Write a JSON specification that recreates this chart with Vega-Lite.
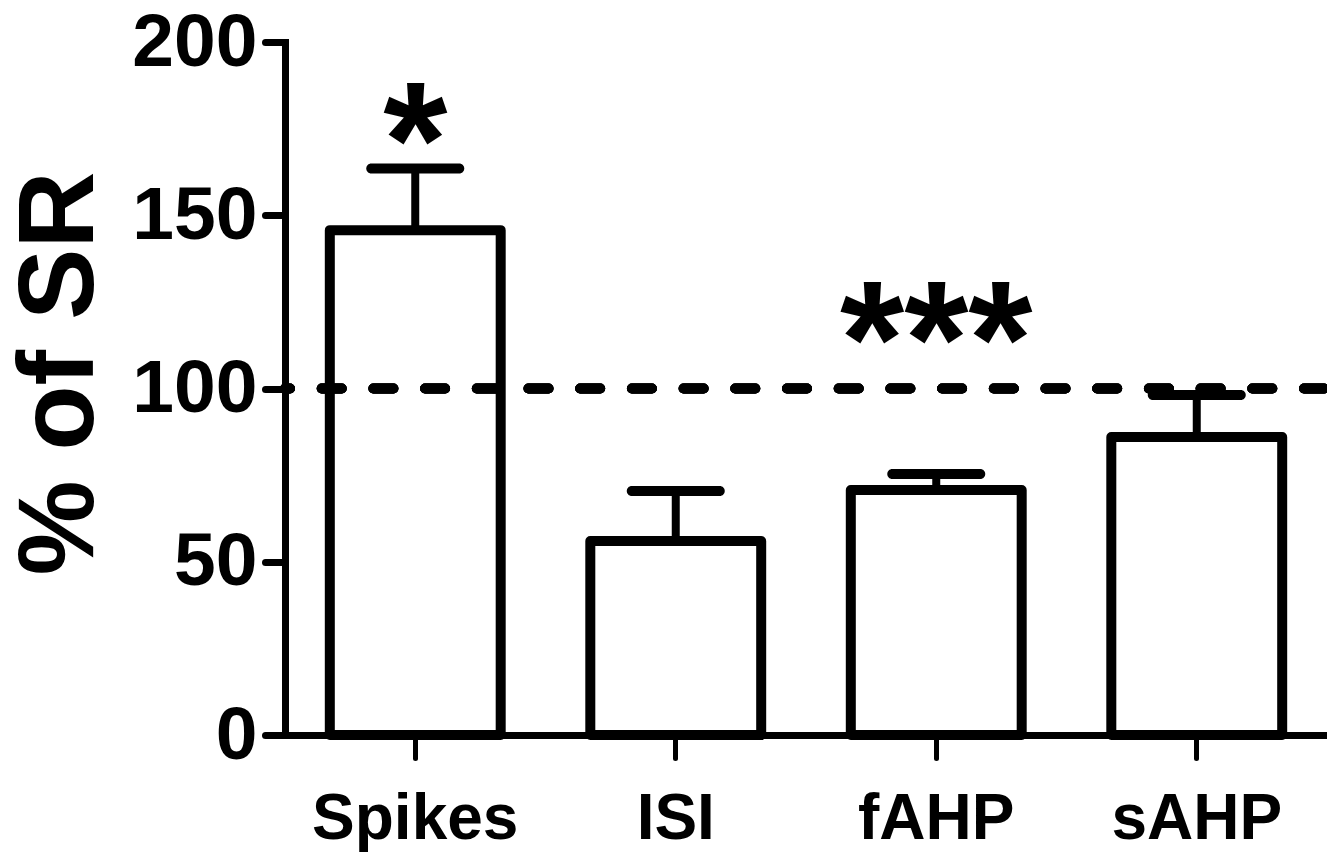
{
  "$schema": "https://vega.github.io/schema/vega-lite/v6.json",
  "width": 1042,
  "height": 693,
  "autosize": "none",
  "padding": {"left": 285, "top": 42, "right": 0, "bottom": 120},
  "background": "white",
  "config": {
    "view": {"stroke": null},
    "font": "Liberation Sans"
  },
  "datasets": {
    "bars": [
      {"cat": "Spikes", "mean": 145.7, "upper": 163.5},
      {"cat": "ISI", "mean": 56.0, "upper": 70.4},
      {"cat": "fAHP", "mean": 70.7, "upper": 75.3},
      {"cat": "sAHP", "mean": 86.0, "upper": 98.1}
    ],
    "sig": [
      {"cat": "Spikes", "label": "*", "pos": 155.4},
      {"cat": "fAHP", "label": "***", "pos": 97.7}
    ]
  },
  "layer": [
    {
      "data": {"name": "bars"},
      "mark": {"type": "bar", "fill": "white", "stroke": "black", "strokeWidth": 10, "strokeJoin": "round"},
      "encoding": {
        "x": {
          "field": "cat", "type": "nominal", "sort": null,
          "scale": {"paddingInner": 0.344, "paddingOuter": 0.172},
          "axis": {
            "title": null, "labelAngle": 0, "labelLimit": 0,
            "labelFont": "Liberation Sans", "labelFontWeight": "bold", "labelFontSize": 64, "labelColor": "black",
            "labelPadding": 29, "labelBaseline": "top",
            "tickSize": 23, "tickWidth": 5, "tickColor": "black", "tickCap": "round",
            "domainColor": "black", "domainWidth": 7, "domainCap": "square",
            "grid": false
          }
        },
        "y": {
          "field": "mean", "type": "quantitative",
          "scale": {"domain": [0, 200], "nice": false},
          "axis": {
            "title": "% of SR", "values": [0, 50, 100, 150, 200],
            "titleFont": "Liberation Sans", "titleFontWeight": "bold", "titleFontSize": 107, "titleColor": "black",
            "titleAngle": -90, "titleAlign": "center", "titleBaseline": "alphabetic",
            "titleX": -193, "titleY": 331,
            "labelFont": "Liberation Sans", "labelFontWeight": "bold", "labelFontSize": 75, "labelColor": "black",
            "labelPadding": 8,
            "tickSize": 20, "tickWidth": 7, "tickColor": "black", "tickCap": "round",
            "domainColor": "black", "domainWidth": 7, "domainCap": "square",
            "grid": false
          }
        }
      }
    },
    {
      "data": {"name": "bars"},
      "mark": {"type": "rule", "stroke": "black", "strokeWidth": 8},
      "encoding": {
        "x": {"field": "cat", "type": "nominal", "sort": null},
        "y": {"field": "mean", "type": "quantitative"},
        "y2": {"field": "upper"}
      }
    },
    {
      "data": {"name": "bars"},
      "mark": {"type": "tick", "color": "black", "size": 98, "thickness": 10, "cornerRadius": 5, "opacity": 1},
      "encoding": {
        "x": {"field": "cat", "type": "nominal", "sort": null},
        "y": {"field": "upper", "type": "quantitative"}
      }
    },
    {
      "data": {"name": "bars"},
      "mark": {"type": "rule", "stroke": "black", "strokeWidth": 10, "strokeDash": [20, 31.7], "strokeCap": "round", "strokeDashOffset": -3},
      "encoding": {
        "y": {"datum": 100}
      }
    },
    {
      "data": {"name": "sig"},
      "mark": {"type": "text", "font": "Liberation Sans", "fontWeight": "bold", "fontSize": 165, "color": "black", "align": "center", "baseline": "alphabetic"},
      "encoding": {
        "x": {"field": "cat", "type": "nominal", "sort": null},
        "y": {"field": "pos", "type": "quantitative"},
        "text": {"field": "label"}
      }
    }
  ]
}
